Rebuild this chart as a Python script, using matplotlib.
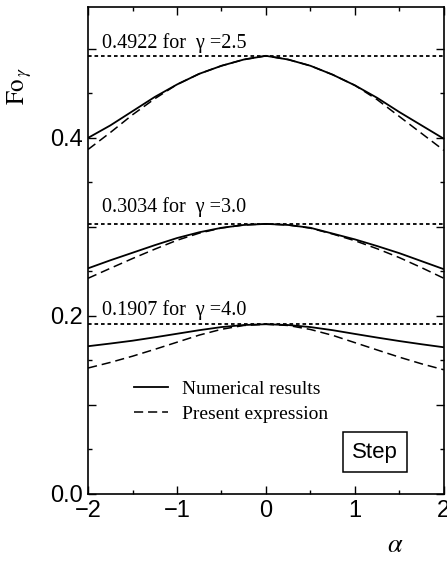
import matplotlib
matplotlib.use("Agg")
import matplotlib.pyplot as plt
from matplotlib.ticker import MultipleLocator, FixedLocator

# ---------------- data ----------------
alpha = [-2.0, -1.75, -1.5, -1.25, -1.0, -0.75, -0.5, -0.25, 0.0,
         0.25, 0.5, 0.75, 1.0, 1.25, 1.5, 1.75, 2.0]

num_g25 = [0.400, 0.414, 0.430, 0.446, 0.460, 0.472, 0.481, 0.488, 0.4922,
           0.488, 0.481, 0.471, 0.459, 0.445, 0.429, 0.414, 0.399]
exp_g25 = [0.387, 0.406, 0.426, 0.444, 0.460, 0.472, 0.481, 0.488, 0.4922,
           0.488, 0.481, 0.471, 0.459, 0.443, 0.424, 0.405, 0.386]

num_g30 = [0.2535, 0.2625, 0.2710, 0.2795, 0.2875, 0.2940, 0.2990, 0.3022, 0.3034,
           0.3022, 0.2990, 0.2925, 0.2860, 0.2785, 0.2705, 0.2615, 0.2525]
exp_g30 = [0.2423, 0.2535, 0.2645, 0.2750, 0.2850, 0.2930, 0.2988, 0.3022, 0.3034,
           0.3022, 0.2986, 0.2920, 0.2845, 0.2755, 0.2655, 0.2542, 0.2423]

num_g40 = [0.1660, 0.1690, 0.1722, 0.1760, 0.1800, 0.1840, 0.1875, 0.1898, 0.1907,
           0.1898, 0.1875, 0.1840, 0.1798, 0.1757, 0.1718, 0.1682, 0.1648]
exp_g40 = [0.1415, 0.1478, 0.1548, 0.1625, 0.1705, 0.1785, 0.1850, 0.1893, 0.1907,
           0.1893, 0.1848, 0.1782, 0.1700, 0.1618, 0.1537, 0.1462, 0.1395]

peak_values = [0.4922, 0.3034, 0.1907]
gamma_labels = ["2.5", "3.0", "4.0"]
label_y = [0.501, 0.317, 0.201]

xticks = [-2, -1, 0, 1, 2]
yticks = [0.0, 0.2, 0.4]

# ---------------- style ----------------
plt.rcParams['mathtext.fontset'] = 'stix'
SERIF = 'Liberation Serif'
SANS = 'Liberation Sans'

fig = plt.figure(figsize=(4.47, 5.62), dpi=100)
ax = fig.add_axes([0.197, 0.121, 0.796, 0.8665])

lw = 1.3
dash = (6, 3.2)
for num, ex in [(num_g25, exp_g25), (num_g30, exp_g30), (num_g40, exp_g40)]:
    ax.plot(alpha, num, color='black', lw=lw, solid_capstyle='butt',
            solid_joinstyle='round')
    ax.plot(alpha, ex, color='black', lw=1.1, dashes=dash)

for pv, g, ly in zip(peak_values, gamma_labels, label_y):
    ax.plot([alpha[0], alpha[-1]], [pv, pv], color='black', lw=1.3, dashes=(2.0, 1.6))
    ax.text(-1.84, ly, f"{pv:.4f} for  \u03b3 =" + g, family=SERIF, fontsize=14.5,
            ha='left', va='baseline')

# legend handles
h1, = ax.plot([], [], color='black', lw=lw, label='Numerical results')
h2, = ax.plot([], [], color='black', lw=1.1, dashes=dash, label='Present expression')
leg = ax.legend(handles=[h1, h2], loc='upper left', bbox_to_anchor=(0.13, 0.233),
                frameon=False, prop={'family': SERIF, 'size': 14},
                handlelength=1.75, handletextpad=0.72, labelspacing=0.36,
                borderpad=0, borderaxespad=0)

ax.text(0.806, 0.086, "Step", transform=ax.transAxes, family=SANS, fontsize=16,
        ha='center', va='center',
        bbox=dict(boxstyle='square,pad=0.42', fc='white', ec='black', lw=1.1))

ax.set_xlim(-2, 2)
ax.xaxis.set_major_locator(FixedLocator(xticks))
ax.xaxis.set_minor_locator(MultipleLocator(0.5))
ax.set_xticklabels(["\u22122", "\u22121", "0", "1", "2"])
ymajor = [0.0, 0.1, 0.2, 0.3, 0.4, 0.5]
ax.yaxis.set_major_locator(FixedLocator(ymajor))
ax.yaxis.set_minor_locator(MultipleLocator(0.05))
ax.set_yticklabels([f"{v:.1f}" if any(abs(v - t) < 1e-9 for t in yticks) else ""
                    for v in ymajor])
ax.set_ylim(0, 0.547)

ax.tick_params(which='both', direction='in', top=True, right=True)
ax.tick_params(which='major', length=6, width=1.0, labelsize=17, pad=4)
ax.tick_params(which='minor', length=3, width=1.0)
for lab in ax.get_xticklabels() + ax.get_yticklabels():
    lab.set_family(SANS)
for sp in ax.spines.values():
    sp.set_linewidth(1.2)

ax.text(-0.191, 0.838, r'$\mathrm{Fo}_{\,\gamma}$', transform=ax.transAxes,
        fontsize=18, rotation=90, ha='center', va='center')
ax.text(0.862, -0.105, r'$\alpha$', transform=ax.transAxes,
        fontsize=19, ha='center', va='center')

fig.savefig("out.png", dpi=100)
